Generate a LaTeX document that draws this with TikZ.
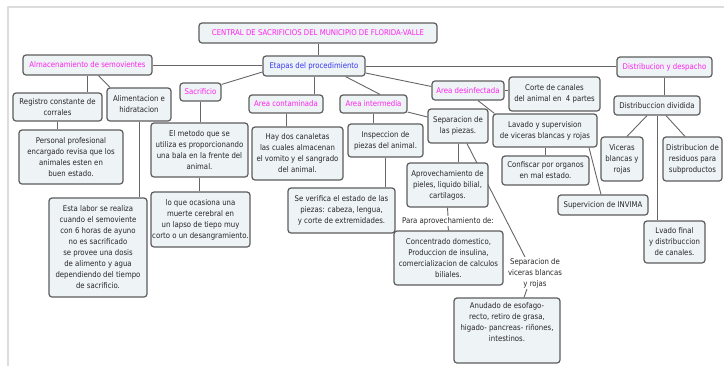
\documentclass[tikz,border=0pt]{standalone}
\usepackage{fontspec}
\setmainfont{DejaVu Sans}[FakeStretch=0.88]
\usetikzlibrary{backgrounds}
\definecolor{cajafondo}{HTML}{EEF3F6}
\definecolor{borde}{HTML}{5C5C5C}
\definecolor{enlace}{HTML}{666666}
\definecolor{rosa}{HTML}{FF22EE}
\definecolor{azul}{HTML}{3535F5}
\definecolor{marco}{HTML}{DCDCDC}
\begin{document}
\begin{tikzpicture}[x=1pt,y=-1pt,line join=round,line cap=round,font=\fontsize{7.9}{11}\selectfont,
  caja/.style={draw=borde,fill=cajafondo,rounded corners=3pt,line width=1.2pt,align=center,inner sep=1pt,text=black!85},
  tema/.style={caja,text=rosa},
  rotulo/.style={align=center,inner sep=1pt,text=black!85},
  enl/.style={draw=enlace,line width=0.9pt}]
\useasboundingbox (0,0) rectangle (724,365);
\draw[marco,line width=2pt] (8,366)--(8,7)--(725,7);
% nivel superior
\node[tema,minimum width=238pt,minimum height=20pt] (central) at (318,33) {CENTRAL DE SACRIFICIOS DEL MUNICIPIO DE FLORIDA-VALLE};
\node[caja,text=azul,minimum width=102pt,minimum height=20pt] (etapas) at (314,66) {Etapas del procedimiento};
\node[tema,minimum width=129pt,minimum height=20pt] (almacen) at (87.5,65) {Almacenamiento de semovientes};
\node[tema,minimum width=95pt,minimum height=20pt] (despacho) at (664.5,67) {Distribucion y despacho};
% almacenamiento
\node[caja,minimum width=89pt,minimum height=28pt] (registro) at (57.5,107) {Registro constante de\\corrales};
\node[caja,minimum width=64pt,minimum height=33pt] (aliment) at (139,104.5) {Alimentacion e\\hidratacion};
\node[caja,minimum width=104pt,minimum height=54pt] (personal) at (71,157) {Personal profesional\\encargado revisa que los\\animales esten en\\buen estado.};
\node[caja,minimum width=98pt,minimum height=99pt] (labor) at (98,247.5) {Esta labor se realiza\\cuando el semoviente\\con 6 horas de ayuno\\no es sacrificado\\se provee una dosis\\de alimento y agua\\dependiendo del tiempo\\de sacrificio.};
% sacrificio
\node[tema,minimum width=41pt,minimum height=18pt] (sacrif) at (200.5,92) {Sacrificio};
\node[caja,minimum width=97pt,minimum height=54pt] (metodo) at (199.5,150) {El metodo que se\\utiliza es proporcionando\\una bala en la frente del\\animal.};
\node[caja,minimum width=99pt,minimum height=55pt] (muerte) at (200.5,219.5) {lo que ocasiona una\\muerte cerebral en\\un lapso de tiepo muy\\corto o un desangramiento.};
% area contaminada
\node[tema,minimum width=74pt,minimum height=18pt] (contam) at (286,104) {Area contaminada};
\node[caja,minimum width=91pt,minimum height=53pt] (canaletas) at (297.5,153.5) {Hay dos canaletas\\las cuales almacenan\\el vomito y el sangrado\\del animal.};
% area intermedia
\node[tema,minimum width=67pt,minimum height=18pt] (intermedia) at (373.5,104) {Area intermedia};
\node[caja,minimum width=75pt,minimum height=33pt] (inspeccion) at (385.5,140.5) {Inspeccion de\\piezas del animal.};
\node[caja,minimum width=107pt,minimum height=45pt] (verifica) at (341.5,210.5) {Se verifica el estado de las\\piezas: cabeza, lengua,\\y corte de extremidades.};
\node[caja,minimum width=60pt,minimum height=34pt] (piezas) at (458,126) {Separacion de\\las piezas.};
\node[caja,minimum width=81pt,minimum height=44pt] (pieles) at (447.5,185) {Aprovechamiento de\\pieles, liquido bilial,\\cartilagos.};
\node[rotulo] (para) at (448,221) {Para aprovechamiento de:};
\node[caja,minimum width=109pt,minimum height=54pt] (concentr) at (448.5,258) {Concentrado domestico,\\Produccion de insulina,\\comercializacion de calculos\\biliales.};
\node[rotulo] (sepvic) at (535,273) {Separacion de\\viceras blancas\\y rojas};
\node[caja,minimum width=106pt,minimum height=65pt] (anudado) at (507,330.5) {Anudado de esofago-\\recto, retiro de grasa,\\higado- pancreas- riñones,\\intestinos.\\[6pt]};
% area desinfectada
\node[tema,minimum width=72pt,minimum height=19pt] (desinf) at (468,90.5) {Area desinfectada};
\node[caja,minimum width=91pt,minimum height=34pt] (corte) at (554.5,94) {Corte de canales\\del animal en~~4 partes};
\node[caja,minimum width=104pt,minimum height=33pt] (lavado) at (545,130.5) {Lavado y supervision\\de viceras blancas y rojas};
\node[caja,minimum width=87pt,minimum height=29pt] (confiscar) at (545.5,170.5) {Confiscar por organos\\en mal estado.};
\node[caja,minimum width=90pt,minimum height=20pt] (invima) at (603,205) {Supervicion de INVIMA};
% distribucion
\node[caja,minimum width=86pt,minimum height=19pt] (dividida) at (657,105.5) {Distribuccion dividida};
\node[caja,minimum width=42pt,minimum height=44pt] (viceras) at (622,159) {Viceras\\blancas y\\rojas};
\node[caja,minimum width=59pt,minimum height=44pt] (residuos) at (692.5,159) {Distribucion de\\residuos para\\subproductos};
\node[caja,minimum width=61pt,minimum height=42pt] (lvado) at (674.5,242) {Lvado final\\y distribuccion\\de canales.};
\begin{scope}[on background layer]
	\draw[enl] (central.south)--(central.south|-etapas.north);
	\draw[enl] (almacen.east)--(almacen.east-|etapas.west);
	\draw[enl] (etapas.east)--(etapas.east-|despacho.west);
	\draw[enl] (almacen.south)--(almacen.south|-registro.north);
	\draw[enl] ([xshift=11pt]almacen.south)--([xshift=-29pt]aliment.north);
	\draw[enl] (registro.south)--(registro.south|-personal.north);
	\draw[enl] (aliment.south)--(aliment.south|-labor.north);
	\draw[enl] ([yshift=-6pt]etapas.west)--([yshift=-2pt]sacrif.north east);
	\draw[enl] (sacrif.south)--(sacrif.south|-metodo.north);
	\draw[enl] (metodo.south)--(metodo.south|-muerte.north);
	\draw[enl] (etapas.south)--(etapas.south|-contam.north);
	\draw[enl] (contam.south)--(contam.south|-canaletas.north);
	\draw[enl] ([xshift=-20pt]etapas.south east)--([xshift=6.5pt]intermedia.north);
	\draw[enl] (intermedia.south)--(intermedia.south|-inspeccion.north);
	\draw[enl] (inspeccion.south)--(inspeccion.south|-verifica.north);
	\draw[enl] ([yshift=-8pt]intermedia.east)--([yshift=9pt]piezas.west);
	\draw[enl] (piezas.south)--(piezas.south|-pieles.north);
	\draw[enl] ([xshift=9pt]piezas.south)--([xshift=-10pt]sepvic.north);
	\draw[enl] (pieles.south)--(para.north);
	\draw[enl] (para.south)--(concentr.north);
	\draw[enl] ([xshift=-8pt]sepvic.south)--([xshift=17pt]anudado.north);
	\draw[enl] ([yshift=-7pt]etapas.east)--([yshift=4pt]desinf.west);
	\draw[enl] (desinf.east)--(desinf.east-|corte.west);
	\draw[enl] ([xshift=10pt]desinf.south)--([xshift=2pt]lavado.north west);
	\draw[enl] (lavado.south)--(lavado.south|-confiscar.north);
	\draw[enl] ([xshift=44pt]lavado.south)--([xshift=-2pt]invima.north);
	\draw[enl] (despacho.south)--(despacho.south|-dividida.north);
	\draw[enl] ([xshift=-10pt]dividida.south)--([xshift=5pt]viceras.north);
	\draw[enl] ([xshift=9pt]dividida.south)--([xshift=-7.5pt]residuos.north);
	\draw[enl] (dividida.south)--(dividida.south|-lvado.north);
\end{scope}
\end{tikzpicture}
\end{document}
